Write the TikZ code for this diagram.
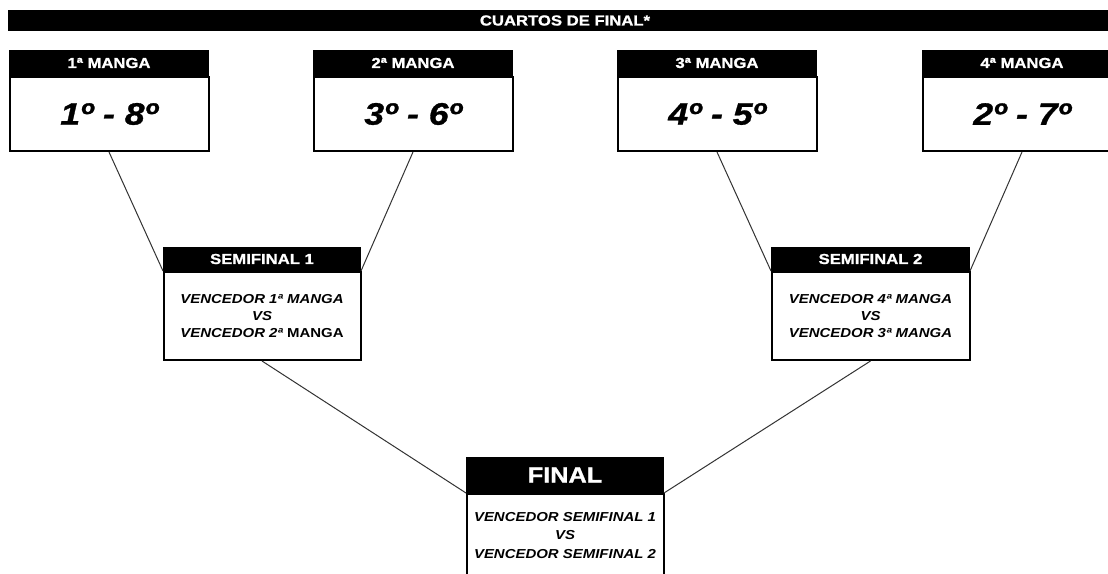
\documentclass[tikz,border=0pt]{standalone}
\usepackage{fontspec}
\setmainfont[FakeStretch=1.15]{Liberation Sans}
\newfontfamily\heavy[FakeStretch=1.15, BoldFeatures={FakeBold=1.2}, BoldItalicFeatures={FakeBold=1}]{Liberation Sans}
\begin{document}
\begin{tikzpicture}[x=1pt,y=-1pt,
  hdr/.style={fill=black, draw=black, line width=1pt, text=white,
    font=\heavy\bfseries\fontsize{14.5}{16}\selectfont,
    minimum height=25pt, inner sep=0pt, anchor=north west},
  bodybox/.style={fill=white, draw=black, line width=2pt, inner sep=0pt,
    anchor=north, align=center},
  bigtxt/.style={font=\heavy\bfseries\itshape\fontsize{31}{34}\selectfont},
  smalltxt/.style={font=\bfseries\itshape\fontsize{13}{17}\selectfont},
  link/.style={draw=black!80, line width=1pt}]
\useasboundingbox (0,0) rectangle (1108,573);
\clip (0,0) rectangle (1108,573);
\fill[white] (0,0) rectangle (1108,573);
% top bar
\node[fill=black, minimum width=1110pt, minimum height=21pt, inner sep=0pt, anchor=north west] (bar) at (8,10) {};
\node[text=white, font=\heavy\bfseries\fontsize{14.5}{16}\selectfont, inner sep=0pt] (bartxt) at (565,20.5) {CUARTOS DE FINAL*};
% quarter-final boxes
\node[hdr, minimum width=199pt] (h1) at (9,50) {1ª MANGA};
\node[bodybox, bigtxt, minimum width=199pt, minimum height=74pt] (b1) at (h1.south) {1º - 8º};
\node[hdr, minimum width=199pt] (h2) at (313,50) {2ª MANGA};
\node[bodybox, bigtxt, minimum width=199pt, minimum height=74pt] (b2) at (h2.south) {3º - 6º};
\node[hdr, minimum width=199pt] (h3) at (617,50) {3ª MANGA};
\node[bodybox, bigtxt, minimum width=199pt, minimum height=74pt] (b3) at (h3.south) {4º - 5º};
\node[hdr, minimum width=199pt] (h4) at (922,50) {4ª MANGA};
\node[bodybox, bigtxt, minimum width=199pt, minimum height=74pt] (b4) at (h4.south) {2º - 7º};
% semifinals
\node[hdr, minimum width=197pt, minimum height=23pt] (s1) at (163,247) {SEMIFINAL 1};
\node[bodybox, smalltxt, minimum width=197pt, minimum height=88pt] (sb1) at (s1.south)
  {VENCEDOR 1ª MANGA\\VS\\VENCEDOR 2ª {\upshape MANGA}};
\node[hdr, minimum width=198pt, minimum height=23pt] (s2) at (771,247) {SEMIFINAL 2};
\node[bodybox, smalltxt, minimum width=198pt, minimum height=88pt] (sb2) at (s2.south)
  {VENCEDOR 4ª MANGA\\VS\\VENCEDOR 3ª MANGA};
% final
\node[hdr, minimum width=197pt, minimum height=35pt, font=\heavy\bfseries\fontsize{22}{24}\selectfont] (f) at (466,457) {FINAL};
\node[bodybox, minimum width=197pt, minimum height=120pt] (fb) at (f.south) {};
\node[align=center, font=\bfseries\itshape\fontsize{13}{18.5}\selectfont, inner sep=0pt, anchor=north] (fbt) at ([yshift=-19pt]f.south)
  {VENCEDOR SEMIFINAL 1\\VS\\VENCEDOR SEMIFINAL 2};
% connectors
\draw[link] (b1.south) -- (s1.south west);
\draw[link] (b2.south) -- (s1.south east);
\draw[link] (b3.south) -- (s2.south west);
\draw[link] (b4.south) -- (s2.south east);
\draw[link] (sb1.south) -- (f.south west);
\draw[link] (sb2.south) -- (f.south east);
\end{tikzpicture}
\end{document}
